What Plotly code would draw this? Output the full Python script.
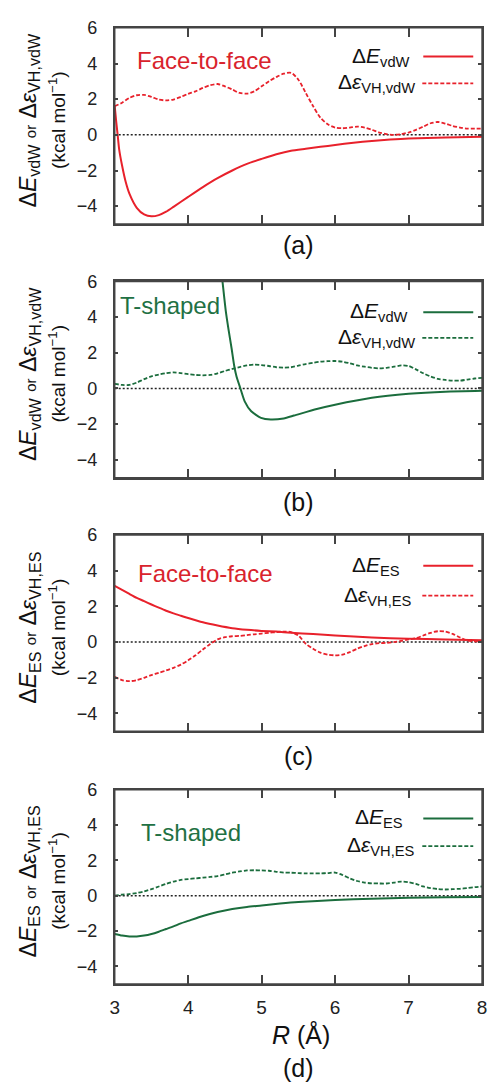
import plotly.graph_objects as go

W, H = 490, 1084
FONT = "Liberation Sans, Arial, Helvetica, sans-serif"
RED = "#e8212b"
GREEN = "#1b6d3d"
RED_TXT = "#d9232d"
GREEN_TXT = "#1f7144"

# ---------------- data ----------------
R_grid = [3.0, 3.1, 3.2, 3.3, 3.4, 3.5, 3.6, 3.7, 3.8, 3.9,
          4.0, 4.1, 4.2, 4.3, 4.4, 4.5, 4.6, 4.7, 4.8, 4.9,
          5.0, 5.1, 5.2, 5.3, 5.4, 5.5, 5.6, 5.7, 5.8, 5.9,
          6.0, 6.1, 6.2, 6.3, 6.4, 6.5, 6.6, 6.7, 6.8, 6.9,
          7.0, 7.1, 7.2, 7.3, 7.4, 7.5, 7.6, 7.7, 7.8, 7.9, 8.0]

# (a) face-to-face, vdW
a_vdw_R = [3.0, 3.02, 3.04, 3.06, 3.1, 3.15, 3.2, 3.3, 3.4, 3.5, 3.6, 3.7, 3.8,
           4.0, 4.2, 4.4, 4.6, 4.8, 5.0, 5.2, 5.4, 5.6, 5.8, 6.0, 6.25, 6.5,
           6.75, 7.0, 7.5, 8.0]
a_vdw_E = [1.61, 0.75, 0.0, -0.8, -1.72, -2.65, -3.3, -4.09, -4.46, -4.57, -4.5,
           -4.31, -4.04, -3.48, -2.93, -2.43, -2.0, -1.63, -1.35, -1.09, -0.89,
           -0.78, -0.67, -0.57, -0.44, -0.34, -0.26, -0.2, -0.15, -0.11]
a_vh_vdw = [1.61, 1.8, 2.07, 2.22, 2.24, 2.13, 1.98, 1.93, 1.98, 2.13,
            2.3, 2.44, 2.63, 2.78, 2.85, 2.72, 2.54, 2.35, 2.31, 2.44,
            2.72, 3.0, 3.24, 3.43, 3.48, 3.09, 2.35, 1.61, 0.96, 0.59,
            0.41, 0.37, 0.41, 0.46, 0.41, 0.28, 0.13, 0.04, 0.0, 0.04,
            0.13, 0.28, 0.46, 0.65, 0.72, 0.63, 0.5, 0.41, 0.35, 0.35, 0.35]

# (b) T-shaped, vdW
b_vdw_R = [4.44, 4.467, 4.511, 4.551, 4.591, 4.627, 4.658, 4.711, 4.769, 4.858,
           4.991, 5.124, 5.3, 5.44, 5.75, 6.0, 6.5, 7.0, 7.5, 8.0]
b_vdw_E = [7.0, 6.0, 4.37, 3.26, 2.24, 1.26, 0.67, 0.0, -0.72, -1.28,
           -1.65, -1.74, -1.68, -1.52, -1.15, -0.91, -0.52, -0.3, -0.18, -0.13]
b_vh_vdw = [0.26, 0.2, 0.2, 0.33, 0.52, 0.68, 0.78, 0.86, 0.9, 0.86,
            0.8, 0.76, 0.74, 0.76, 0.85, 0.98, 1.1, 1.2, 1.29, 1.34,
            1.31, 1.26, 1.19, 1.17, 1.19, 1.28, 1.37, 1.44, 1.5, 1.53,
            1.54, 1.5, 1.41, 1.3, 1.22, 1.16, 1.13, 1.16, 1.22, 1.29,
            1.26, 1.07, 0.85, 0.67, 0.54, 0.48, 0.44, 0.44, 0.5, 0.56, 0.59]

# (c) face-to-face, ES
c_es_R = [3.0, 3.1, 3.2, 3.3, 3.4, 3.5, 3.6, 3.7, 3.8, 3.9, 4.0, 4.2, 4.4, 4.6,
          4.8, 5.0, 5.2, 5.4, 5.7, 6.0, 6.5, 7.0, 7.5, 8.0]
c_es_E = [3.15, 2.93, 2.7, 2.48, 2.3, 2.11, 1.93, 1.76, 1.61, 1.48, 1.35, 1.11,
          0.93, 0.78, 0.69, 0.63, 0.59, 0.53, 0.45, 0.37, 0.26, 0.19, 0.15, 0.11]
c_vh_es = [-1.94, -2.13, -2.19, -2.13, -2.0, -1.85, -1.72, -1.59, -1.44, -1.26,
           -1.02, -0.74, -0.41, -0.11, 0.15, 0.28, 0.33, 0.35, 0.39, 0.44,
           0.48, 0.52, 0.56, 0.59, 0.56, 0.37, -0.09, -0.37, -0.59, -0.7,
           -0.74, -0.7, -0.56, -0.37, -0.22, -0.11, -0.06, -0.04, 0.0, 0.07,
           0.15, 0.22, 0.37, 0.52, 0.61, 0.59, 0.46, 0.26, 0.09, 0.04, 0.04]

# (d) T-shaped, ES
d_es_R = [3.0, 3.1, 3.2, 3.3, 3.4, 3.5, 3.6, 3.7, 3.8, 3.9, 4.0, 4.2, 4.4, 4.6,
          4.8, 5.0, 5.25, 5.5, 6.0, 6.5, 7.0, 7.5, 8.0]
d_es_E = [-2.17, -2.26, -2.31, -2.31, -2.26, -2.17, -2.04, -1.89, -1.74, -1.57,
          -1.43, -1.15, -0.93, -0.76, -0.64, -0.56, -0.45, -0.36, -0.25, -0.17,
          -0.12, -0.09, -0.07]
d_vh_es = [0.0, 0.06, 0.09, 0.15, 0.24, 0.37, 0.52, 0.67, 0.8, 0.89,
           0.94, 0.98, 1.02, 1.06, 1.11, 1.2, 1.3, 1.37, 1.43, 1.44,
           1.43, 1.41, 1.35, 1.31, 1.3, 1.28, 1.26, 1.26, 1.26, 1.28,
           1.31, 1.17, 0.98, 0.83, 0.74, 0.7, 0.69, 0.69, 0.74, 0.8,
           0.76, 0.67, 0.52, 0.43, 0.37, 0.35, 0.37, 0.39, 0.43, 0.48, 0.52]

x_ticks = [3, 4, 5, 6, 7, 8]
y_ticks = [-4, -2, 0, 2, 4, 6]
panel_labels = ["(a)", "(b)", "(c)", "(d)"]
panel_names = ["Face-to-face", "T-shaped", "Face-to-face", "T-shaped"]
legend_solid = ["Δ<i>E</i><sub>vdW</sub>", "Δ<i>E</i><sub>vdW</sub>",
                "Δ<i>E</i><sub>ES</sub>", "Δ<i>E</i><sub>ES</sub>"]
legend_dash = ["Δ<i>ε</i><sub>VH,vdW</sub>", "Δ<i>ε</i><sub>VH,vdW</sub>",
               "Δ<i>ε</i><sub>VH,ES</sub>", "Δ<i>ε</i><sub>VH,ES</sub>"]
ytitles = ["Δ<i>E</i><sub>vdW</sub> <span style='font-size:15px'>or</span> Δ<i>ε</i><sub>VH,vdW</sub>",
           "Δ<i>E</i><sub>vdW</sub> <span style='font-size:15px'>or</span> Δ<i>ε</i><sub>VH,vdW</sub>",
           "Δ<i>E</i><sub>ES</sub> <span style='font-size:15px'>or</span> Δ<i>ε</i><sub>VH,ES</sub>",
           "Δ<i>E</i><sub>ES</sub> <span style='font-size:15px'>or</span> Δ<i>ε</i><sub>VH,ES</sub>"]

panels = [
    (a_vdw_R, a_vdw_E, R_grid, a_vh_vdw, RED, RED_TXT),
    (b_vdw_R, b_vdw_E, R_grid, b_vh_vdw, GREEN, GREEN_TXT),
    (c_es_R, c_es_E, R_grid, c_vh_es, RED, RED_TXT),
    (d_es_R, d_es_E, R_grid, d_vh_es, GREEN, GREEN_TXT),
]

# ---------------- layout geometry (pixels) ----------------
PX_L, PX_R = 112, 487
tops = [18, 274, 530, 787]
bots = [216, 472, 728, 983]
leg_rows = [(47, 74), (305, 331), (561, 591), (816, 844)]
leg_txt_right = [(415, 421), (413, 421), (405, 418), (408, 421)]
name_pos = [(133, 51), (115, 298), (134, 569), (137, 830)]
label_y = [237, 497, 753, 1068]


def fx(px):
    return px / W


def fy(py):
    return 1 - py / H


fig = go.Figure()
layout = dict(
    width=W, height=H, margin=dict(l=0, r=0, t=0, b=0),
    paper_bgcolor="white", plot_bgcolor="white", showlegend=False,
    font=dict(family=FONT, size=18, color="#222"),
)
annotations = []
shapes = []

for i, (rs, es, rv, vh, col, tcol) in enumerate(panels):
    n = i + 1
    xa = "x" if n == 1 else f"x{n}"
    ya = "y" if n == 1 else f"y{n}"
    fig.add_trace(go.Scatter(x=rv, y=vh, mode="lines", xaxis=xa, yaxis=ya,
                             line=dict(color=col, width=1.8, dash="4px,2px",
                                       shape="spline", smoothing=0.8)))
    fig.add_trace(go.Scatter(x=rs, y=es, mode="lines", xaxis=xa, yaxis=ya,
                             line=dict(color=col, width=2.0, shape="spline",
                                       smoothing=0.6)))
    common = dict(showline=True, linecolor="#444", linewidth=1.5, mirror="ticks",
                  ticks="inside", tickcolor="#444", tickwidth=1.5,
                  showgrid=False, zeroline=False)
    layout[f"xaxis{'' if n == 1 else n}"] = dict(
        domain=[fx(PX_L), fx(PX_R)], range=[3, 8], anchor=ya,
        tickvals=x_ticks, ticklen=9, showticklabels=(n == 4),
        tickfont=dict(size=19, color="#222"), ticklabelstandoff=6,
        ticklabeloverflow="allow", **common)
    layout[f"yaxis{'' if n == 1 else n}"] = dict(
        domain=[fy(bots[i]), fy(tops[i])], range=[-5, 6], anchor=xa,
        tickvals=y_ticks, ticklen=4, tickfont=dict(size=18, color="#222"),
        ticklabelstandoff=12, ticklabeloverflow="allow", **common)
    # plot frame
    shapes.append(dict(type="rect", xref=f"{xa} domain", yref=f"{ya} domain",
                       x0=0, x1=1, y0=0, y1=1, layer="above",
                       line=dict(color="#444", width=1.5)))
    # zero reference line
    shapes.append(dict(type="line", xref=f"{xa} domain", yref=ya, x0=0, x1=1,
                       y0=0, y1=0, layer="below",
                       line=dict(color="#222", width=1.5, dash="2px,2px")))
    # legend samples
    ys, yd = leg_rows[i]
    shapes.append(dict(type="line", xref="paper", yref="paper", x0=fx(427), x1=fx(478),
                       y0=fy(ys), y1=fy(ys), line=dict(color=col, width=2.0)))
    shapes.append(dict(type="line", xref="paper", yref="paper", x0=fx(426), x1=fx(478),
                       y0=fy(yd), y1=fy(yd), line=dict(color=col, width=1.8, dash="4px,2px")))
    ts, td = leg_txt_right[i]
    annotations.append(dict(text=legend_solid[i], xref="paper", yref="paper",
                            x=fx(ts), y=fy(ys), xanchor="right", yanchor="middle",
                            showarrow=False, font=dict(size=21, color="#111")))
    annotations.append(dict(text=legend_dash[i], xref="paper", yref="paper",
                            x=fx(td), y=fy(yd), xanchor="right", yanchor="middle",
                            showarrow=False, font=dict(size=21, color="#111")))
    # panel name
    nx, ny = name_pos[i]
    annotations.append(dict(text=panel_names[i], xref="paper", yref="paper",
                            x=fx(nx), y=fy(ny), xanchor="left", yanchor="middle",
                            showarrow=False, font=dict(size=24, color=tcol)))
    # panel label
    annotations.append(dict(text=panel_labels[i], xref="paper", yref="paper",
                            x=fx(300), y=fy(label_y[i]), xanchor="center",
                            yanchor="middle", showarrow=False,
                            font=dict(size=25, color="#111")))
    # y-axis titles
    cy = (tops[i] + bots[i]) / 2 - 6
    annotations.append(dict(text=ytitles[i], xref="paper", yref="paper",
                            x=fx(25), y=fy(cy), xanchor="center", yanchor="middle",
                            textangle=-90, showarrow=False,
                            font=dict(size=23, color="#111")))
    annotations.append(dict(text="(kcal mol<sup>−1</sup>)", xref="paper", yref="paper",
                            x=fx(53), y=fy(cy), xanchor="center", yanchor="middle",
                            textangle=-90, showarrow=False,
                            font=dict(size=19, color="#111")))

annotations.append(dict(text="<i>R</i> (Å)", xref="paper", yref="paper",
                        x=fx(302), y=fy(1034), xanchor="center", yanchor="middle",
                        showarrow=False, font=dict(size=25, color="#111")))

layout["annotations"] = annotations
layout["shapes"] = shapes
fig.update_layout(**layout)
fig.write_html(
    "out.html",
    post_script="document.body.style.margin='0';document.body.style.overflow='hidden';",
)
